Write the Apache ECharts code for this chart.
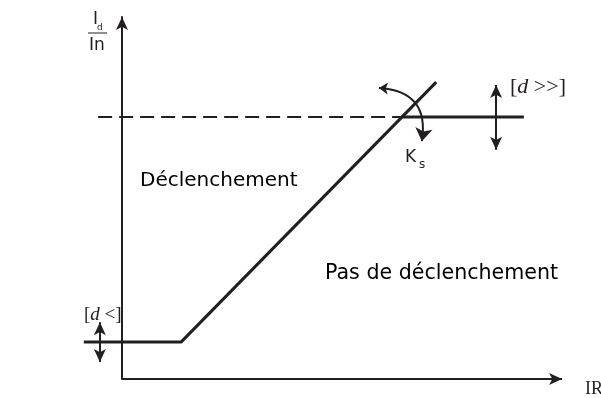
<!DOCTYPE html>
<html>
<head>
<meta charset="utf-8">
<script src="https://cdn.jsdelivr.net/npm/echarts@6/dist/echarts.min.js"></script>
<style>
  html, body { margin: 0; padding: 0; background: #fff; }
  #chart { width: 601px; height: 398px; }
</style>
</head>
<body>
<div id="chart"></div>
<script>
// points in (IR, Id/In) units
var xAxisLine = [[0, 0], [10.14, 0]];
var characteristic = [[-0.88, 1.02], [1.36, 1.02], [7.24, 8.2]];
var highThreshold = [[6.44, 7.24], [9.26, 7.24]];
var dashedThreshold = [[-0.55, 7.24], [6.44, 7.24]];
var lowArrow = [[-0.51, 1.57], [-0.51, 0.47]];
var highArrow = [[8.62, 8.12], [8.62, 6.33]];
var ksArrow = [[5.92, 8.04], [6.91, 6.57]];

var ink = '#231f20';

function seg(pts) {
    return [{ coord: pts[0] }, { coord: pts[1] }];
}

var chart = echarts.init(document.getElementById('chart'));
var option = {
    backgroundColor: '#fff',
    animation: false,
    grid: { left: 78.6, right: 23.3, top: 17, bottom: 19 },
    xAxis: {
        type: 'value', min: -1, max: 10.5,
        axisLine: { show: false },
        axisTick: { show: false }, axisLabel: { show: false }, splitLine: { show: false }
    },
    yAxis: {
        type: 'value', min: 0, max: 10,
        axisLine: { show: true, onZero: true, symbol: ['none', 'arrow'], symbolSize: [9, 13], lineStyle: { color: ink, width: 2 } },
        axisTick: { show: false }, axisLabel: { show: false }, splitLine: { show: false }
    },
    series: [
        {
            type: 'line', data: characteristic, symbol: 'none',
            lineStyle: { color: ink, width: 3 },
            markLine: {
                silent: true,
                symbol: ['none', 'arrow'],
                symbolSize: [9, 13],
                label: { show: false },
                lineStyle: { color: ink, width: 2, type: 'solid' },
                data: [seg(xAxisLine)]
            }
        },
        {
            type: 'line', data: highThreshold, symbol: 'none',
            lineStyle: { color: ink, width: 3 }
        },
        {
            type: 'line', data: dashedThreshold, symbol: 'none',
            lineStyle: { color: ink, width: 2, type: [14, 7] },
            markLine: {
                silent: true,
                symbol: ['arrow', 'arrow'],
                symbolSize: [9, 13],
                label: { show: false },
                lineStyle: { color: ink, width: 2, type: 'solid' },
                data: [seg(lowArrow), seg(highArrow)]
            }
        },
        {
            type: 'lines', coordinateSystem: 'cartesian2d', silent: true, clip: false,
            symbol: ['arrow', 'arrow'], symbolSize: [9, 13],
            lineStyle: { color: ink, width: 2, opacity: 1, curveness: 0.55 },
            data: [{ coords: ksArrow }]
        }
    ],
    graphic: [
        { type: 'text', style: { text: 'I', x: 93, y: 20, font: '17px "DejaVu Sans"', fill: ink, textVerticalAlign: 'middle' } },
        { type: 'text', style: { text: 'd', x: 97, y: 28, font: '9px "DejaVu Sans"', fill: ink, textVerticalAlign: 'middle' } },
        { type: 'line', shape: { x1: 88, y1: 33, x2: 107, y2: 33 }, style: { stroke: ink, lineWidth: 1 } },
        { type: 'text', style: { text: 'In', x: 89, y: 46, font: '17px "DejaVu Sans"', fill: ink, textVerticalAlign: 'middle' } },
        { type: 'text', style: { text: 'Déclenchement', x: 140, y: 181, font: '20px "DejaVu Sans"', fill: '#000', textVerticalAlign: 'middle' } },
        { type: 'rect', shape: { x: 135, y: 188, width: 175, height: 10 }, style: { fill: '#fff' } },
        { type: 'text', style: { text: 'Pas de déclenchement', x: 325, y: 274, font: '20.6px "DejaVu Sans"', fill: '#000', textVerticalAlign: 'middle' } },
        { type: 'text', style: { text: 'K', x: 405, y: 158, font: '17px "DejaVu Sans"', fill: ink, textVerticalAlign: 'middle' } },
        { type: 'text', style: { text: 's', x: 419, y: 165, font: '12px "DejaVu Sans"', fill: ink, textVerticalAlign: 'middle' } },
        {
            type: 'text',
            style: {
                text: '[{i|d} >>]', x: 510, y: 87, textVerticalAlign: 'middle',
                font: '22px "Liberation Serif"', fill: ink,
                rich: { i: { fontStyle: 'italic', fontFamily: 'Liberation Serif', fontSize: 22, fill: ink } }
            }
        },
        {
            type: 'text',
            style: {
                text: '[{i|d} <]', x: 84, y: 315, textVerticalAlign: 'middle',
                font: '19px "Liberation Serif"', fill: ink,
                rich: { i: { fontStyle: 'italic', fontFamily: 'Liberation Serif', fontSize: 19, fill: ink } }
            }
        },
        { type: 'text', style: { text: 'IR', x: 585, y: 389, font: '18px "Liberation Serif"', fill: ink, textVerticalAlign: 'middle' } }
    ]
};
chart.setOption(option);
window.addEventListener('resize', chart.resize);
</script>
</body>
</html>
